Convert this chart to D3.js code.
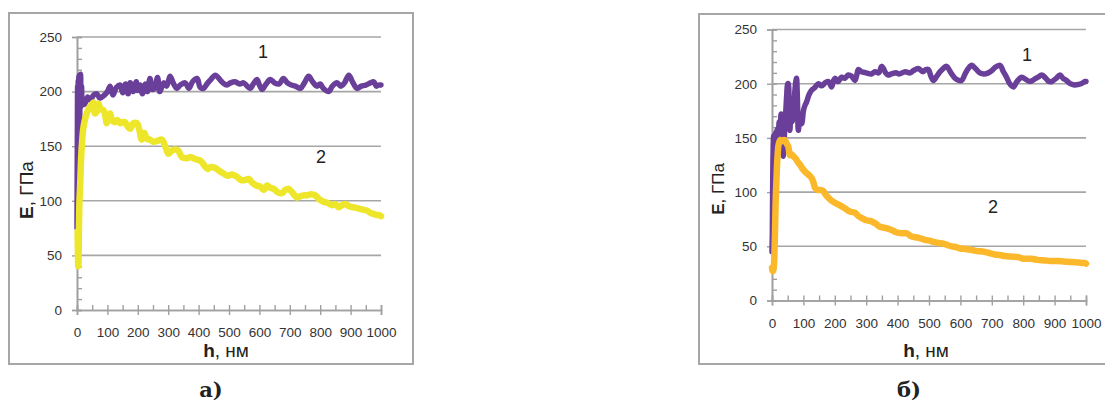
<!DOCTYPE html>
<html>
<head>
<meta charset="utf-8">
<script src="https://cdn.jsdelivr.net/npm/d3@7"></script>
<style>
  html, body { margin: 0; padding: 0; background: #fff; }
  svg { display: block; }
</style>
</head>
<body>
<script>
// ---------- DATA ----------
const yTicks = [0, 50, 100, 150, 200, 250];
const xTicks = [0, 100, 200, 300, 400, 500, 600, 700, 800, 900, 1000];

// panel a), curve 1 (purple)
const leftH1 = [0,1,2,3,4,5,6,7,8,9,10,11,12,13,15,17,20,26,35,43,55,65,75,87,100,109,118,130,142,150,160,168,175,185,195,200,208,215,225,232,240,248,255,265,272,285,295,306,318,328,340,356,368,380,395,405,416,430,440,455,470,480,493,505,520,535,548,560,570,580,592,600,609,622,636,650,665,679,692,705,718,735,748,762,775,789,800,810,828,840,855,868,880,894,908,921,935,950,965,976,985,992,1000];
const leftE1 = [75,150,205,130,210,165,214,150,215,175,212,185,216,195,205,190,188,189,195,192,197,198,194,196,200,205,197,204,206,199,207,198,208,200,209,201,206,198,207,200,212,202,203,213,200,208,205,214,207,203,206,208,203,209,212,204,203,208,211,215,211,208,206,208,209,207,208,205,203,207,211,206,202,207,211,208,207,212,208,206,205,203,208,214,209,205,207,203,200,205,208,205,208,215,208,203,205,206,208,209,205,206,206];

// panel a), curve 2 (yellow)
const leftH2 = [2,3,4,5,6,7,8,10,12,14,17,20,25,32,40,48,54,59,65,70,78,87,93,98,104,109,115,125,133,142,150,158,167,175,185,197,205,213,222,229,240,251,265,279,290,301,312,323,333,345,361,375,390,405,420,430,440,455,470,482,495,510,526,540,553,565,575,590,603,614,625,635,647,660,674,685,696,710,723,734,745,757,770,784,798,812,825,840,850,861,872,883,895,910,925,940,954,965,976,985,992,1000];
const leftE2 = [72,55,40,45,70,85,100,112,128,142,155,165,173,180,185,188,190,180,182,189,184,183,178,171,176,180,174,172,174,171,172,172,168,166,171,171,165,156,162,157,156,154,155,156,150,143,146,147,146,140,139,140,138,137,132,129,131,130,127,125,123,124,122,119,119,120,117,114,113,110,114,112,111,108,107,110,111,107,103,104,105,105,106,105,101,99,98,96,97,94,96,97,95,94,93,92,91,89,88,87,87,86];

// panel б), curve 1 (purple)
const rightH1 = [0,1,2,3,4,5,6,8,10,12,14,17,20,23,26,29,31,33,36,38,41,44,47,50,52,54,57,60,64,68,72,75,78,81,84,88,94,100,105,110,118,126,135,148,158,170,180,190,196,201,210,222,232,243,253,264,270,275,285,300,317,328,340,349,355,362,370,380,395,405,424,440,450,466,480,490,498,506,514,525,535,545,556,570,583,595,604,615,625,636,648,662,675,689,700,710,726,737,747,757,769,780,795,808,822,835,847,859,872,882,891,905,917,927,938,950,960,970,984,997,1000];
const rightE1 = [45,60,100,130,145,152,140,150,148,155,150,158,154,165,160,172,170,150,133,145,160,175,190,200,200,185,157,170,165,176,190,200,205,185,157,165,163,175,180,183,190,194,196,200,198,201,202,197,203,205,202,206,205,208,207,203,208,213,211,210,209,211,210,216,214,210,208,209,210,209,211,210,212,214,211,213,213,207,203,207,211,214,216,210,205,203,203,209,214,217,214,210,209,210,212,215,217,211,206,200,197,202,206,204,202,204,206,208,205,202,202,205,208,205,203,200,199,199,200,202,202];

// panel б), curve 2 (orange)
const rightH2 = [0,2,4,6,8,10,12,14,16,18,20,23,26,31,36,41,46,52,57,62,68,75,84,90,96,105,112,120,126,132,137,145,155,163,170,179,190,201,215,232,248,264,275,286,300,317,330,344,360,381,395,413,429,445,465,487,505,514,530,546,560,572,589,600,615,630,645,657,675,695,710,725,742,760,785,801,815,827,845,869,885,912,930,954,975,997,1000];
const rightE2 = [30,27,28,32,45,70,95,110,125,135,142,146,148,147,148,148,145,142,134,135,133,131,127,125,122,119,117,115,113,109,104,102,102,101,98,95,92,90,88,85,82,81,78,76,74,73,71,68,67,65,63,62,62,59,58,56,55,54,53,52.5,51,50,49,48,47.5,47,46,45.5,45,43.5,42.5,42,41,40.5,40,38.5,38.5,38.5,37.5,37,36.5,36.5,36,35.5,35,34.5,34];

// ---------- DRAW ----------
const W = 1105, H = 403;
const svg = d3.select("body").append("svg").attr("width", W).attr("height", H);
svg.append("rect").attr("width", W).attr("height", H).attr("fill", "#fff");

const GRID = "#a6a6a6", AX = "#a0a0a0", TXT = "#333";
const FONT = "'Liberation Sans', Arial, sans-serif";

function panel(cfg) {
  const g = svg.append("g");
  g.append("rect")
    .attr("x", cfg.frame[0]).attr("y", cfg.frame[1])
    .attr("width", cfg.frame[2] - cfg.frame[0]).attr("height", cfg.frame[3] - cfg.frame[1])
    .attr("fill", "none").attr("stroke", GRID).attr("stroke-width", 2);

  const x = d3.scaleLinear().domain([0, 1000]).range(cfg.xr);
  const y = d3.scaleLinear().domain([0, 250]).range(cfg.yr);

  g.append("g").selectAll("line").data(yTicks.filter(v => v > 0)).join("line")
    .attr("x1", x(0)).attr("x2", x(1000))
    .attr("y1", d => y(d)).attr("y2", d => y(d))
    .attr("stroke", GRID).attr("stroke-width", 1.6);

  g.append("g").attr("transform", `translate(${x(0)},0)`)
    .call(d3.axisLeft(y).tickValues(yTicks).tickSize(5).tickPadding(10).tickFormat(d3.format("d")));
  g.append("g").attr("transform", `translate(${x(0)},0)`)
    .call(d3.axisRight(y).tickValues(d3.range(0, 251, 10)).tickSize(5).tickFormat(""));
  g.append("g").attr("transform", `translate(0,${y(0)})`)
    .call(d3.axisBottom(x).tickValues(xTicks).tickSize(5).tickPadding(12.5).tickFormat(d3.format("d")));
  g.append("g").attr("transform", `translate(0,${y(0)})`)
    .call(d3.axisTop(x).tickValues(d3.range(0, 1001, 50)).tickSize(5).tickFormat(""));

  g.selectAll(".domain").attr("stroke", AX).attr("stroke-width", 1.6);
  g.selectAll(".tick line").attr("stroke", AX).attr("stroke-width", 1.4);
  g.selectAll(".tick text").attr("fill", TXT).style("font-family", FONT).style("font-size", "13.5px");

  const line = d3.line().x(d => x(d[0])).y(d => y(d[1])).curve(d3.curveCatmullRom.alpha(0.5));
  const s1 = cfg.h1.map((h, i) => [h, cfg.e1[i]]);
  const s2 = cfg.h2.map((h, i) => [h, cfg.e2[i]]);
  g.append("path").datum(s1).attr("d", line)
    .attr("fill", "none").attr("stroke", cfg.c1).attr("stroke-width", 5.5)
    .attr("stroke-linejoin", "round").attr("stroke-linecap", "round");
  g.append("path").datum(s2).attr("d", line)
    .attr("fill", "none").attr("stroke", cfg.c2).attr("stroke-width", 6.5)
    .attr("stroke-linejoin", "round").attr("stroke-linecap", "round");

  g.append("text").attr("x", cfg.l1[0]).attr("y", cfg.l1[1]).attr("text-anchor", "middle")
    .style("font-family", FONT).style("font-size", "18px").attr("fill", "#222").text("1");
  g.append("text").attr("x", cfg.l2[0]).attr("y", cfg.l2[1]).attr("text-anchor", "middle")
    .style("font-family", FONT).style("font-size", "18px").attr("fill", "#222").text("2");

  const xt = g.append("text").attr("x", (x(0) + x(1000)) / 2 - 3).attr("y", cfg.xtY)
    .attr("text-anchor", "middle").style("font-family", FONT).style("font-size", "19px").attr("fill", "#222");
  xt.append("tspan").attr("font-weight", "bold").text("h");
  xt.append("tspan").text(", нм");

  const yt = g.append("text").attr("transform", `translate(${cfg.yt[0]},${cfg.yt[1]}) rotate(-90)`)
    .attr("text-anchor", "middle").style("font-family", FONT).style("font-size", cfg.ytSize + "px").attr("fill", "#222");
  yt.append("tspan").attr("font-weight", "bold").text("E");
  yt.append("tspan").text(", ГПа");

  g.append("text").attr("x", cfg.cap[0]).attr("y", cfg.cap[1]).attr("text-anchor", "middle")
    .style("font-family", "'DejaVu Serif', 'Liberation Serif', serif").style("font-size", "21px")
    .attr("font-weight", "bold").attr("fill", "#222").text(cfg.capText);
}

panel({
  frame: [9, 13, 413, 364],
  xr: [77, 381], yr: [310, 37],
  h1: leftH1, e1: leftE1, h2: leftH2, e2: leftE2,
  c1: "#6a3f99", c2: "#ede62a",
  l1: [263, 58], l2: [321, 163],
  xtY: 357, yt: [33, 190], ytSize: 19,
  cap: [211, 397], capText: "а)"
});

panel({
  frame: [699, 14, 1112, 364],
  xr: [772, 1086], yr: [300.5, 29.5],
  h1: rightH1, e1: rightE1, h2: rightH2, e2: rightE2,
  c1: "#6a3f99", c2: "#fbb82b",
  l1: [1027, 61], l2: [993, 213],
  xtY: 357, yt: [724, 189], ytSize: 17,
  cap: [909, 397], capText: "б)"
});
</script>
</body>
</html>
